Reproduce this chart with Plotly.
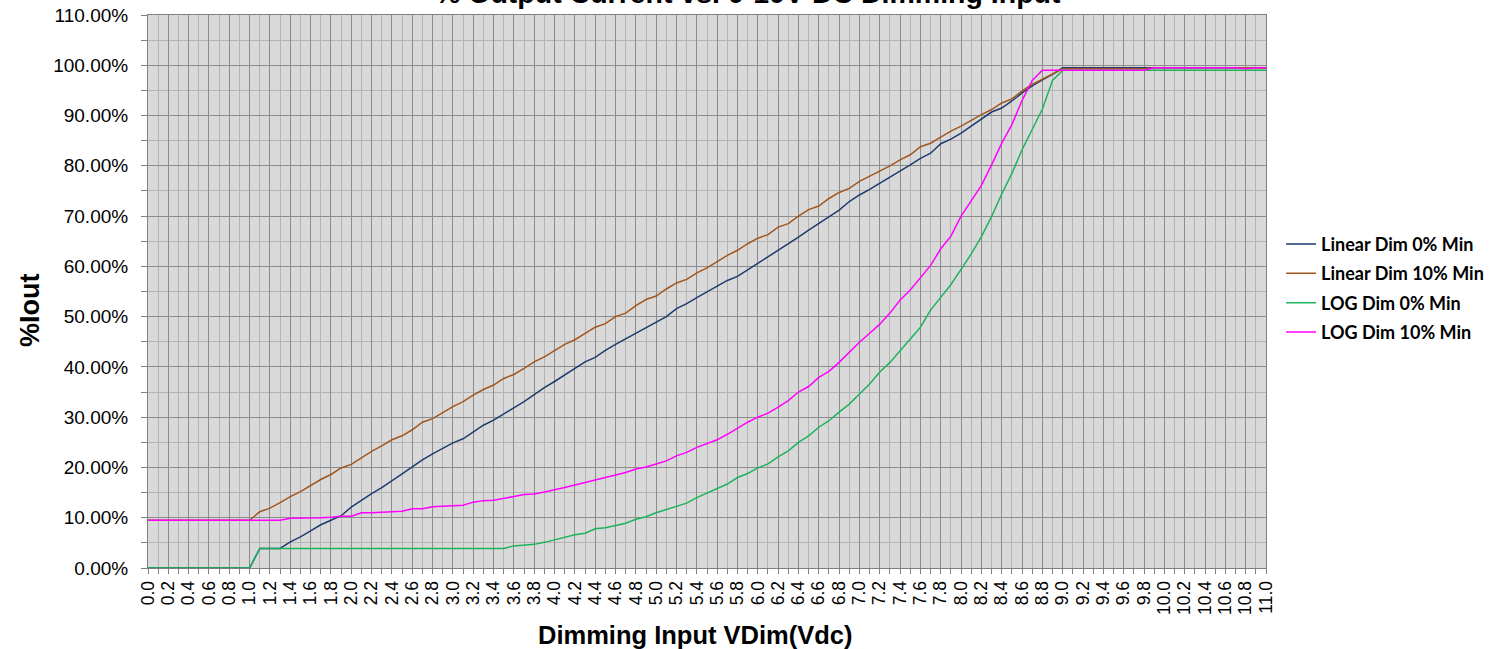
import plotly.graph_objects as go

# ---- data ----
categories = [f"{i/10:.1f}" for i in range(111)]  # "0.0" ... "11.0" (category labels)

linear_0 = [0]*11 + [
    3.9, 3.9, 3.9, 5.2, 6.2, 7.4, 8.6, 9.5, 10.4, 12.1,
    13.5, 14.8, 16.0, 17.3, 18.7, 20.1, 21.5, 22.7, 23.8, 24.9,
    25.7, 27.1, 28.4, 29.4, 30.6, 31.8, 33.1, 34.5, 35.9, 37.1,
    38.4, 39.7, 41.0, 41.9, 43.3, 44.5, 45.6, 46.6, 47.8, 48.9,
    50.0, 51.6, 52.6, 53.8, 54.9, 56.1, 57.2, 58.0, 59.3, 60.5,
    61.9, 63.2, 64.4, 65.8, 67.2, 68.5, 69.8, 71.2, 72.9, 74.2,
    75.3, 76.5, 77.7, 78.9, 80.2, 81.5, 82.5, 84.4, 85.3, 86.5,
    87.9, 89.2, 90.7, 91.5, 92.9, 94.5, 95.9, 97.1, 98.2, 99.5,
] + [99.5]*20

linear_10 = [9.5]*11 + [
    11.2, 11.9, 13.0, 14.2, 15.2, 16.4, 17.6, 18.6, 19.9, 20.6,
    21.9, 23.2, 24.3, 25.5, 26.3, 27.5, 29.0, 29.7, 30.9, 32.1,
    33.1, 34.4, 35.5, 36.4, 37.7, 38.5, 39.7, 41.0, 42.0, 43.3,
    44.5, 45.4, 46.7, 47.9, 48.6, 50.0, 50.7, 52.2, 53.4, 54.1,
    55.5, 56.7, 57.4, 58.7, 59.7, 61.0, 62.2, 63.2, 64.5, 65.6,
    66.3, 67.8, 68.5, 70.0, 71.3, 72.0, 73.5, 74.7, 75.5, 76.9,
    77.9, 79.0, 80.0, 81.2, 82.2, 83.8, 84.5, 85.7, 86.9, 87.9,
    89.1, 90.2, 91.2, 92.5, 93.3, 94.9, 96.2, 97.2, 98.2, 99.3,
] + [99.3]*8 + [99.5]*12

log_0 = [0]*11 + [3.9]*25 + [
    4.4, 4.6, 4.7, 5.1, 5.6, 6.1, 6.6, 6.9, 7.8, 8.0,
    8.5, 8.9, 9.7, 10.2, 11.0, 11.6, 12.2, 12.9, 14.0, 14.9,
    15.7, 16.7, 18.0, 18.8, 19.9, 20.7, 22.1, 23.3, 25.0, 26.3,
    28.0, 29.3, 31.0, 32.6, 34.6, 36.6, 39.0, 40.9, 43.2, 45.5,
    47.9, 51.3, 53.8, 56.4, 59.4, 62.5, 65.9, 69.9, 74.4, 78.5,
    83.2, 87.4, 91.3, 97.0, 99.0,
] + [99.0]*20

log_10 = [9.5]*14 + [
    9.9, 9.9, 9.9, 10.0, 10.1, 10.3, 10.3, 11.0, 11.0, 11.1,
    11.3, 11.3, 11.8, 11.8, 12.2, 12.3, 12.4, 12.5, 13.1, 13.4,
    13.5, 13.8, 14.2, 14.6, 14.7, 15.1, 15.5, 16.0, 16.5, 17.0,
    17.6, 18.0, 18.5, 19.0, 19.7, 20.1, 20.7, 21.3, 22.3, 23.0,
    24.0, 24.8, 25.5, 26.6, 27.8, 29.0, 30.0, 30.8, 32.0, 33.3,
    35.0, 36.1, 37.9, 39.1, 40.9, 43.0, 44.9, 46.7, 48.5, 50.7,
    53.3, 55.3, 57.7, 60.2, 63.5, 66.0, 70.0, 73.1, 76.1, 80.2,
    84.5, 88.2, 93.0, 97.0, 99.0,
] + [99.0]*10 + [99.5]*9 + [99.3] + [99.5]*2

series_names = ["Linear Dim 0% Min", "Linear Dim 10% Min", "LOG Dim 0% Min", "LOG Dim 10% Min"]
series_values = [linear_0, linear_10, log_0, log_10]
series_colors = ["#1F3A6E", "#A0561E", "#1DB35C", "#FF00FF"]

y_tick_vals = [i*10 for i in range(12)]
y_tick_text = [f"{v:.2f}%" for v in y_tick_vals]

# ---- figure ----
x_vals = [float(c) for c in categories]
FONT = "Liberation Sans, Arial, sans-serif"

fig = go.Figure()
for i, (name, vals, col) in enumerate(zip(series_names, series_values, series_colors)):
    fig.add_trace(go.Scatter(x=x_vals, y=vals, mode="lines", name=name,
                             legendgroup=f"g{i}",
                             line=dict(color=col, width=1.5)))

fig.update_layout(
    width=1502, height=649,
    margin=dict(l=148, r=236, t=15, b=81),
    paper_bgcolor="white", plot_bgcolor="#D9D9D9",
    showlegend=True,
    legend=dict(x=1.0135, y=0.506, xanchor="left", yanchor="middle",
                font=dict(family="Lato, sans-serif", size=18, color="#000000", weight="bold"),
                bgcolor="rgba(0,0,0,0)", itemwidth=30, tracegroupgap=3),
    font=dict(family=FONT, color="#000000"),
)

fig.update_xaxes(
    range=[0, 11], automargin=False,
    tickmode="array", tickvals=x_vals[::2], ticktext=categories[::2],
    tickangle=-90, tickfont=dict(family=FONT, size=17.5, color="#000000"),
    ticks="outside", ticklen=5, tickcolor="#808080",
    showgrid=True, gridcolor="#8C8C8C", gridwidth=1,
    minor=dict(dtick=0.1, showgrid=True, gridcolor="#B4B4B4", gridwidth=1,
               ticks="outside", ticklen=5, tickcolor="#808080"),
    showline=True, linecolor="#808080", linewidth=1, mirror=True,
    zeroline=False,
)
fig.update_yaxes(
    range=[0, 110], automargin=False,
    tickmode="array", tickvals=y_tick_vals, ticktext=y_tick_text,
    tickfont=dict(family=FONT, size=19, color="#000000"),
    ticks="outside", ticklen=6, tickcolor="#808080", ticklabelstandoff=9,
    showgrid=True, gridcolor="#8C8C8C", gridwidth=1,
    minor=dict(dtick=5, showgrid=True, gridcolor="#B4B4B4", gridwidth=1,
               ticks="outside", ticklen=6, tickcolor="#808080"),
    showline=True, linecolor="#808080", linewidth=1, mirror=True,
    zeroline=False,
)

# title (partly cut at top, as in the reference)
fig.add_annotation(text="<b>% Output Current vs. 0-10V DC Dimming Input</b>",
                   xref="paper", yref="paper", x=(748-148)/1118, y=(568+7)/553,
                   xanchor="center", yanchor="middle", showarrow=False,
                   font=dict(family=FONT, size=28.5, color="#000000"))
# axis titles
fig.add_annotation(text="<b>Dimming Input VDim(Vdc)</b>",
                   xref="paper", yref="paper", x=(695-148)/1118, y=(568-635)/553,
                   xanchor="center", yanchor="middle", showarrow=False,
                   font=dict(family=FONT, size=25.5, color="#000000"))
fig.add_annotation(text="<b>%Iout</b>", textangle=-90,
                   xref="paper", yref="paper", x=(30-148)/1118, y=(568-310)/553,
                   xanchor="center", yanchor="middle", showarrow=False,
                   font=dict(family=FONT, size=27, color="#000000"))

fig.write_html("out.html",
               config={"displayModeBar": False},
               post_script="document.body.style.margin='0';document.body.style.overflow='hidden';")
